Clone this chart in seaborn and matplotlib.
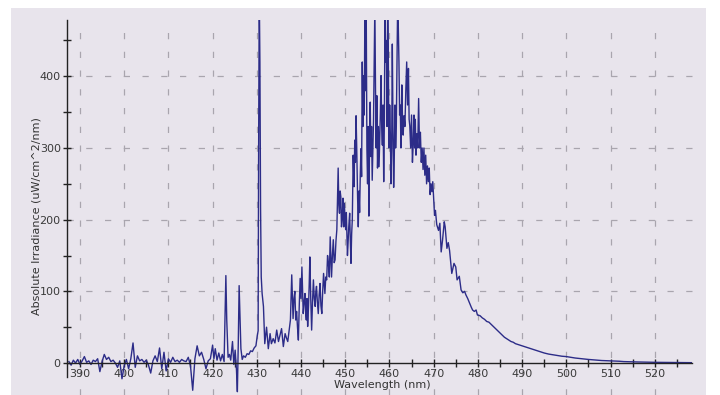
import numpy as np
import pandas as pd
import matplotlib
matplotlib.use("Agg")
import matplotlib.pyplot as plt
import seaborn as sns
from matplotlib.patches import Rectangle

# --- spectrum, split by region ---
# noisy baseline 387.5 - 419.5 nm
wl_base = [387.5, 388, 388.5, 389, 389.5, 390, 390.5, 391, 391.5, 392, 392.5, 393, 393.5,
           394, 394.5, 395, 395.5, 396, 396.5, 397, 397.5, 398, 398.5, 399, 399.5, 400,
           400.5, 401, 401.5, 402, 402.5, 403, 403.5, 404, 404.5, 405, 405.5, 406, 406.5,
           407, 407.5, 408, 408.5, 409, 409.5, 410, 410.5, 411, 411.5, 412, 412.5, 413,
           413.5, 414, 414.5, 415, 415.5, 416, 416.5, 417, 417.5, 418, 418.5, 419, 419.5]
irr_base = [2, -3, 4, 0, 5, -2, 3, 9, 1, 3, -2, 4, 2,
            6, -12, 2, 12, 5, 8, 2, 4, 0, -6, 3, -22, -4,
            5, -8, 6, 28, -6, 10, 3, 5, 1, 4, -3, -14, 3,
            10, 2, 21, -8, 15, -11, 6, 1, 8, 2, 4, 1, 5,
            3, 2, 8, -4, -38, 6, 24, 10, 15, 5, -8, 3, 6]

# first emission lines 420 - 430 nm
wl_lines = [420, 420.3, 420.6, 421, 421.4, 421.8, 422.2, 422.6, 422.8, 423.0, 423.2, 423.5,
            423.8, 424.1, 424.5, 424.8, 425.1, 425.4, 425.6, 425.8, 426.0, 426.2, 426.4,
            426.7, 427.0, 427.4, 427.8, 428.2, 428.6, 429.0, 429.4, 429.8, 430.1]
irr_lines = [25, 6, 20, 4, 14, 3, 12, 2, 62, 122, 60, 8,
             12, 4, 30, -2, 18, -10, -40, 25, 108, 65, 20,
             5, 10, 8, 13, 12, 17, 16, 21, 24, 38]

# sharp 430.5 nm line and rising shoulder up to 452 nm
wl_rise = [430.3, 430.4, 430.55, 430.7, 430.85, 431.0, 431.2, 431.5, 431.8, 432.2, 432.6,
           433.0, 433.3, 433.7, 434.1, 434.5, 434.9, 435.2, 435.6, 436.0, 436.4, 436.7,
           437.0, 437.3, 437.6, 437.9, 438.1, 438.2, 438.4, 438.6, 438.8, 439.0, 439.2,
           439.4, 439.6, 439.8, 440.0, 440.2, 440.35, 440.5, 440.7, 440.9, 441.05, 441.2,
           441.35, 441.5, 441.7, 441.85, 442.0, 442.2, 442.4, 442.6, 442.8, 443.0, 443.2,
           443.35, 443.5, 443.7, 443.9, 444.1, 444.3, 444.5, 444.7, 444.9, 445.1, 445.25,
           445.4, 445.6, 445.8, 446.0, 446.2, 446.4, 446.6, 446.75, 446.9, 447.1, 447.3,
           447.5, 447.7, 447.9, 448.1, 448.25, 448.4, 448.55, 448.7, 448.85, 449.0, 449.15,
           449.3, 449.5, 449.65, 449.8, 449.95, 450.1, 450.25, 450.4, 450.5, 450.6, 450.8,
           451.0, 451.15, 451.3, 451.45, 451.6, 451.8]
irr_rise = [45, 280, 520, 420, 215, 120, 97, 79, 27, 50, 20,
            41, 27, 34, 28, 46, 30, 38, 48, 23, 41, 35,
            30, 45, 60, 123, 80, 62, 90, 100, 60, 72, 50,
            32, 80, 118, 90, 134, 100, 69, 85, 97, 70, 60,
            90, 51, 80, 110, 148, 90, 46, 85, 116, 90, 79,
            100, 107, 85, 69, 95, 111, 80, 69, 100, 125, 110,
            97, 120, 116, 150, 139, 120, 176, 150, 120, 150, 172,
            140, 144, 170, 186, 230, 272, 220, 209, 240, 232, 190,
            200, 230, 190, 223, 200, 186, 210, 175, 150, 162, 190,
            209, 170, 139, 180, 200, 290]

# main band 452 - 470 nm
wl_band = [452.0, 452.15, 452.3, 452.45, 452.6, 452.8, 452.95, 453.1, 453.25, 453.4, 453.55,
           453.7, 453.85, 454.0, 454.15, 454.3, 454.45, 454.6, 454.75, 454.9, 455.05, 455.2,
           455.35, 455.5, 455.65, 455.8, 455.95, 456.1, 456.25, 456.4, 456.55, 456.7, 456.85,
           457.0, 457.15, 457.3, 457.5, 457.65, 457.8, 457.95, 458.1, 458.25, 458.4, 458.55,
           458.7, 458.85, 459.0, 459.15, 459.3, 459.45, 459.6, 459.75, 459.9, 460.05, 460.2,
           460.35, 460.5, 460.65, 460.8, 460.95, 461.1, 461.25, 461.4, 461.55, 461.7, 461.85,
           462.0, 462.15, 462.3, 462.45, 462.6, 462.8, 462.95, 463.1, 463.3, 463.5, 463.7,
           463.9, 464.1, 464.3, 464.45, 464.6, 464.8, 465.0, 465.2, 465.4, 465.55, 465.7,
           465.85, 466.0, 466.2, 466.4, 466.6, 466.8, 467.0, 467.2, 467.4, 467.6, 467.8,
           468.0, 468.2, 468.4, 468.6, 468.8, 469.0, 469.2, 469.4, 469.6, 469.8]
irr_band = [246, 311, 280, 345, 300, 230, 190, 240, 210, 262, 299,
            260, 420, 330, 401, 346, 500, 380, 490, 300, 250, 330,
            205, 311, 364, 288, 330, 255, 300, 340, 420, 500, 380,
            300, 373, 272, 330, 274, 314, 350, 401, 330, 304, 360,
            253, 340, 500, 420, 450, 330, 500, 420, 300, 360, 320,
            250, 300, 445, 330, 245, 290, 360, 300, 330, 420, 500,
            470, 420, 346, 360, 300, 388, 340, 318, 345, 330, 380,
            420, 360, 411, 340, 331, 300, 346, 280, 309, 346, 300,
            340, 290, 320, 300, 369, 300, 322, 280, 300, 270, 300,
            262, 290, 250, 275, 253, 272, 235, 250, 239, 253]

# falling edge 470 - 480 nm
wl_fall = [470.2, 470.4, 470.7, 471.1, 471.4, 471.7, 472.0, 472.4, 472.6, 473.0, 473.3,
           473.6, 474.1, 474.6, 475.0, 475.3, 475.8, 476.2, 476.6, 477.0, 477.3, 477.7,
           478.1, 478.5, 478.8, 479.2, 479.6, 479.9]
irr_fall = [206, 213, 193, 185, 195, 155, 171, 197, 190, 160, 168,
            157, 125, 139, 134, 116, 121, 102, 98, 100, 95, 90,
            84, 78, 74, 72, 74, 67]

# smooth tail 480 - 528.5 nm
wl_tail = [480.5, 481, 481.5, 482, 482.5, 483, 483.5, 484, 484.5, 485, 485.5, 486, 486.5,
           487, 487.5, 488, 488.5, 489, 489.5, 490, 491, 492, 493, 494, 495, 496, 497,
           498, 499, 500, 501, 502, 503, 504, 505, 506, 507, 508, 509, 510, 511, 512,
           513, 514, 516, 518, 520, 522, 524, 526, 528.5]
irr_tail = [66, 63, 61, 58, 57, 54, 51, 48, 45, 42, 39, 36, 34,
            32, 30, 29, 27, 26, 25, 24, 22, 20, 18, 16, 14, 12.5, 11.5,
            10.5, 9.5, 9, 8, 7, 6.3, 5.5, 5, 4.5, 4, 3.5, 3.2, 3, 2.8, 2.5,
            2, 1.8, 1.5, 1.2, 1, 0.9, 0.7, 0.6, 0.5]

x_ticks = [390, 400, 410, 420, 430, 440, 450, 460, 470, 480, 490, 500, 510, 520]
y_ticks = [0, 100, 200, 300, 400]

df = pd.DataFrame({
    "wavelength": wl_base + wl_lines + wl_rise + wl_band + wl_fall + wl_tail,
    "irradiance": irr_base + irr_lines + irr_rise + irr_band + irr_fall + irr_tail,
})

x_left, x_right = 387.06, 528.5
y_top = 478

fig = plt.figure(figsize=(7.2, 3.95), dpi=100)
fig.patch.set_facecolor("white")
ax = fig.add_axes([11 / 720, 0, 695 / 720, 387 / 395])
ax.set_facecolor("#e8e4ec")

# dashed grid, limited to the data area like the original software
grid_kw = dict(colors="#a9a5ae", linewidth=0.9, linestyles=(0, (5, 10)), zorder=1)
ax.vlines(x_ticks, -45, y_top, **grid_kw)
ax.hlines(y_ticks[1:], x_left, x_right, **grid_kw)

sns.lineplot(data=df, x="wavelength", y="irradiance", estimator=None, sort=False,
             color="#2c2c88", linewidth=1.0, ax=ax, zorder=3)
clip = Rectangle((x_left, -60), x_right - x_left, y_top + 60, transform=ax.transData)
for ln in ax.lines:
    ln.set_clip_path(clip)

ax.set_xlim(374.4, 531.6)
ax.set_ylim(-44.6, 495.3)

for side in ["top", "right"]:
    ax.spines[side].set_visible(False)
ax.spines["left"].set_position(("data", x_left))
ax.spines["bottom"].set_position(("data", 0))
ax.spines["left"].set_bounds(-20, y_top)
ax.spines["bottom"].set_bounds(x_left, x_right)
for side in ["left", "bottom"]:
    ax.spines[side].set_color("#222222")
    ax.spines[side].set_linewidth(1.0)
    ax.spines[side].set_zorder(4)

ax.set_xticks(x_ticks)
ax.set_xticks(np.arange(395, 530, 10), minor=True)
ax.set_yticks(y_ticks)
ax.set_yticks([50, 150, 250, 350, 450], minor=True)
ax.tick_params(which="both", direction="inout", length=6, width=1, color="#222222")
ax.tick_params(axis="both", labelsize=8, labelcolor="#3a3a3a", pad=1.5)

ax.set_xlabel("Wavelength (nm)", fontsize=8, color="#333333")
ax.set_ylabel("Absolute Irradiance (uW/cm^2/nm)", fontsize=8, color="#333333")
ax.xaxis.set_label_coords(0.534, 0.026)
ax.yaxis.set_label_coords(0.037, 0.4625)
ax.xaxis.label.set_va("center")
ax.yaxis.label.set_va("center")

fig.savefig("out.png", dpi=100)
